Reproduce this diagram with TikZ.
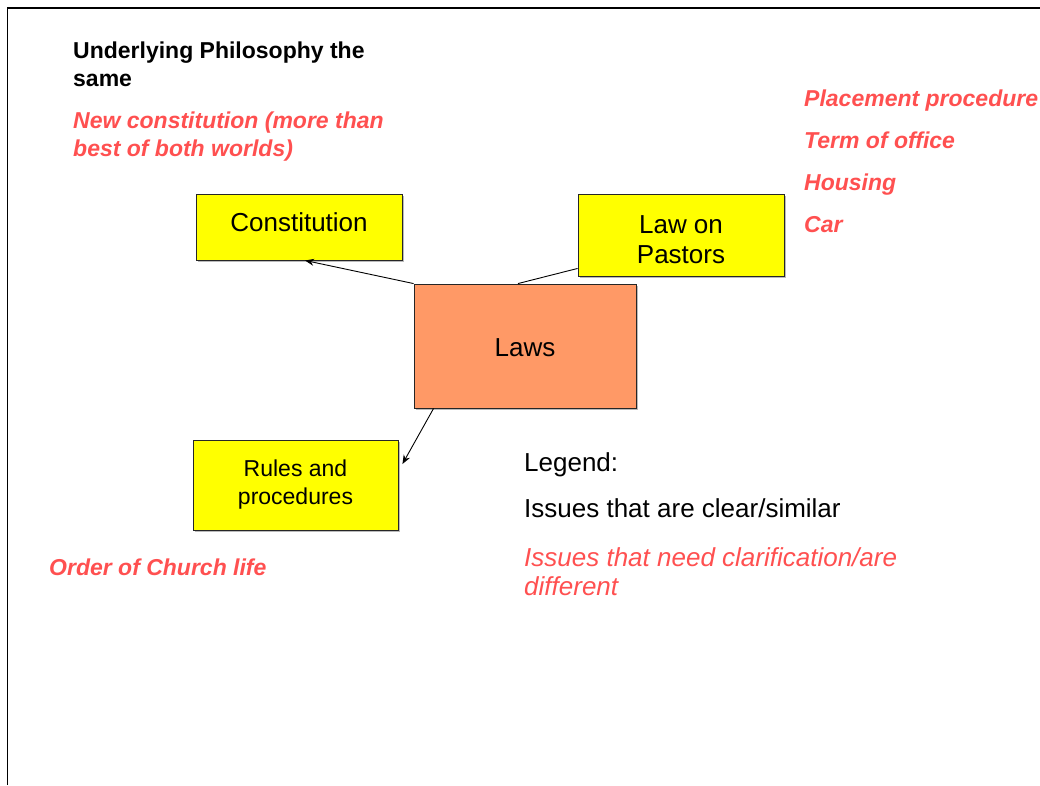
\documentclass[tikz,border=0pt]{standalone}
\usepackage{fontspec}
\setmainfont{Liberation Sans}
\usetikzlibrary{arrows.meta,shadows}

\definecolor{issuered}{RGB}{255,80,80}
\definecolor{boxyellow}{RGB}{255,255,0}
\definecolor{lawsfill}{RGB}{255,153,102}

\tikzset{
  box/.style={draw=black!85, line width=0.9pt, fill=boxyellow, inner sep=0pt,
    align=center, drop shadow={shadow xshift=1.5pt, shadow yshift=-1.5pt, fill=black!45, opacity=0.6}},
  bigtext/.style={font=\fontsize{26}{30}\selectfont},
  midtext/.style={font=\fontsize{23}{27.3}\selectfont},
  note/.style={anchor=base west, inner sep=0pt, align=left},
  link/.style={line width=0.9pt, draw=black},
  arrowlink/.style={link, -{Stealth[length=9pt,width=7pt]}}
}

\begin{document}
\begin{tikzpicture}[x=1pt, y=-1pt]
  \useasboundingbox (0,0) rectangle (1040,785);

  % page frame, cut off at the right and bottom
  \draw[line width=1.5pt] (7.5,785) -- (7.5,8) -- (1040,8);

  % boxes
  \node[box, bigtext, minimum width=206pt, minimum height=66pt,
        text height=19pt, text depth=9.6pt] (cons) at (299,227) {Constitution};
  \node[box, bigtext, minimum width=206pt, minimum height=82pt,
        text height=56.6pt, text depth=0pt] (pastors) at (681,235) {Law on\\Pastors};
  \node[box, bigtext, fill=lawsfill, minimum width=222pt, minimum height=124pt,
        text height=20pt, text depth=0pt] (laws) at (525,346) {Laws};
  \node[box, midtext, minimum width=205pt, minimum height=90pt,
        text height=38pt, text depth=0pt] (rules) at (295.5,485) {Rules and\\procedures};

  % connectors
  \draw[arrowlink] (laws.north west) -- ([xshift=6pt]cons.south);
  \draw[link] ([xshift=-7pt]laws.north) -- ([yshift=8pt]pastors.south west);
  \draw[arrowlink] ([xshift=20pt]laws.south west) -- ([xshift=4pt,yshift=21pt]rules.east);

  % notes on the left (anchored at the baseline of the last line)
  \node[note, font=\fontsize{23}{27.7}\selectfont\bfseries] (phil) at (73,86)
    {Underlying Philosophy the\\same};
  \node[note, font=\fontsize{23}{27.7}\selectfont\bfseries\itshape, text=issuered] (newcons) at (73,156)
    {New constitution (more than\\best of both worlds)};
  \node[note, font=\fontsize{23}{27.7}\selectfont\bfseries\itshape, text=issuered] (order) at (49,575.7)
    {Order of Church life};

  % notes on the right
  \node[note, font=\fontsize{23}{42}\selectfont\bfseries\itshape, text=issuered] (pastornotes) at (804,232.7)
    {Placement procedure\\Term of office\\Housing\\Car};

  % legend
  \node[note, bigtext] (legend) at (524,471.7) {Legend:};
  \node[note, bigtext] (clear) at (524,517.7) {Issues that are clear/similar};
  \node[note, font=\fontsize{26}{29.7}\selectfont\itshape, text=issuered] (unclear) at (524,595.7)
    {Issues that need clarification/are\\different};
\end{tikzpicture}
\end{document}
